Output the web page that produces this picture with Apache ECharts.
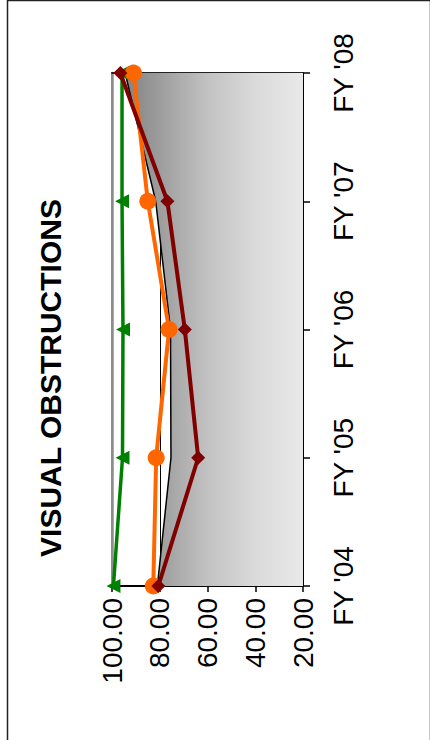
<!DOCTYPE html>
<html>
<head>
<meta charset="utf-8">
<script src="https://cdn.jsdelivr.net/npm/echarts@6/dist/echarts.min.js"></script>
<style>
html,body{margin:0;padding:0;background:#fff;}
#chart{width:430px;height:740px;}
</style>
</head>
<body>
<div id="chart"></div>
<script>
var titleText = 'VISUAL OBSTRUCTIONS';
var categories = ["FY '04", "FY '05", "FY '06", "FY '07", "FY '08"];
var valueTicks = [20, 40, 60, 80, 100];
var areaValues = [81.0, 75.3, 75.5, 81.7, 94.5];
var greenValues = [99.4, 95.6, 95.4, 95.8, 95.8];
var orangeValues = [82.7, 81.5, 76.1, 85.0, 91.0];
var maroonValues = [80.6, 63.9, 69.5, 76.8, 96.5];

function pairs(vals) {
  return vals.map(function (v, i) { return [v, categories[i]]; });
}

var FONT = "'Liberation Sans', Arial, sans-serif";
var chart = echarts.init(document.getElementById('chart'), null, {renderer: 'svg'});

chart.setOption({
  animation: false,
  backgroundColor: '#ffffff',
  grid: {
    left: 112, right: 127, top: 73, bottom: 154,
    show: true, borderColor: '#8c8c8c', borderWidth: 2, backgroundColor: 'transparent'
  },
  xAxis: [{
    type: 'value', min: valueTicks[0], max: valueTicks[valueTicks.length - 1], interval: 20,
    inverse: true, position: 'bottom',
    axisLine: {show: true, lineStyle: {color: '#000', width: 2}},
    axisTick: {show: true, length: 6, lineStyle: {color: '#000', width: 1.5}},
    axisLabel: {
      rotate: 90, margin: 12, color: '#000', fontSize: 28, fontFamily: FONT,
      formatter: function (v) { return v.toFixed(2); }
    },
    splitLine: {show: true, showMinLine: false, showMaxLine: false, lineStyle: {color: '#000', width: 1}}
  }, {
    type: 'value', min: valueTicks[0], max: valueTicks[valueTicks.length - 1], interval: 20,
    inverse: true, position: 'top',
    axisLine: {show: true, lineStyle: {color: '#222', width: 2}},
    axisTick: {show: false}, axisLabel: {show: false}, splitLine: {show: false}
  }],
  yAxis: [{
    type: 'category', data: categories, boundaryGap: false, position: 'right',
    axisLine: {show: true, lineStyle: {color: '#000', width: 2}},
    axisTick: {show: true, length: 7, lineStyle: {color: '#000', width: 1.5}},
    axisLabel: {rotate: 90, margin: 26, color: '#000', fontSize: 28, fontFamily: FONT},
    splitLine: {show: false}
  }, {
    type: 'category', data: categories, boundaryGap: false, position: 'left',
    axisLine: {show: true, lineStyle: {color: '#8c8c8c', width: 2.5}},
    axisTick: {show: false}, axisLabel: {show: false}, splitLine: {show: false}
  }],
  series: [{
    name: 'Area', type: 'line', data: pairs(areaValues), symbol: 'none',
    lineStyle: {color: '#000', width: 1.5},
    areaStyle: {
      opacity: 1,
      color: {
        type: 'linear', x: 112, y: 0, x2: 303, y2: 0, global: true,
        colorStops: [
          {offset: 0, color: '#7a7a7a'},
          {offset: 0.15, color: '#8e8e8e'},
          {offset: 0.5, color: '#c2c2c2'},
          {offset: 0.75, color: '#dadada'},
          {offset: 1, color: '#e9e9e9'}
        ]
      }
    },
    z: 2
  }, {
    name: 'Green', type: 'line', data: pairs(greenValues),
    symbol: 'triangle', symbolSize: 14, symbolRotate: 90, showAllSymbol: true,
    lineStyle: {color: '#008000', width: 3.5}, itemStyle: {color: '#008000'}, z: 3
  }, {
    name: 'Orange', type: 'line', data: pairs(orangeValues),
    symbol: 'circle', symbolSize: 17, showAllSymbol: true,
    lineStyle: {color: '#ff6600', width: 4}, itemStyle: {color: '#ff6600'}, z: 4
  }, {
    name: 'Maroon', type: 'line', data: pairs(maroonValues),
    symbol: 'diamond', symbolSize: 14, showAllSymbol: true,
    lineStyle: {color: '#800000', width: 4}, itemStyle: {color: '#800000'}, z: 5
  }],
  graphic: [{
    type: 'rect', left: 5, top: -2, shape: {x: 0, y: 0, width: 423, height: 741},
    style: {fill: 'none', stroke: '#222', lineWidth: 1.5}, silent: true
  }, {
    type: 'text', x: 50, y: 378, rotation: Math.PI / 2,
    style: {
      text: titleText, x: 0, y: 0, align: 'center', verticalAlign: 'middle',
      fill: '#000', font: 'bold 30px ' + FONT
    }
  }]
});
</script>
</body>
</html>
